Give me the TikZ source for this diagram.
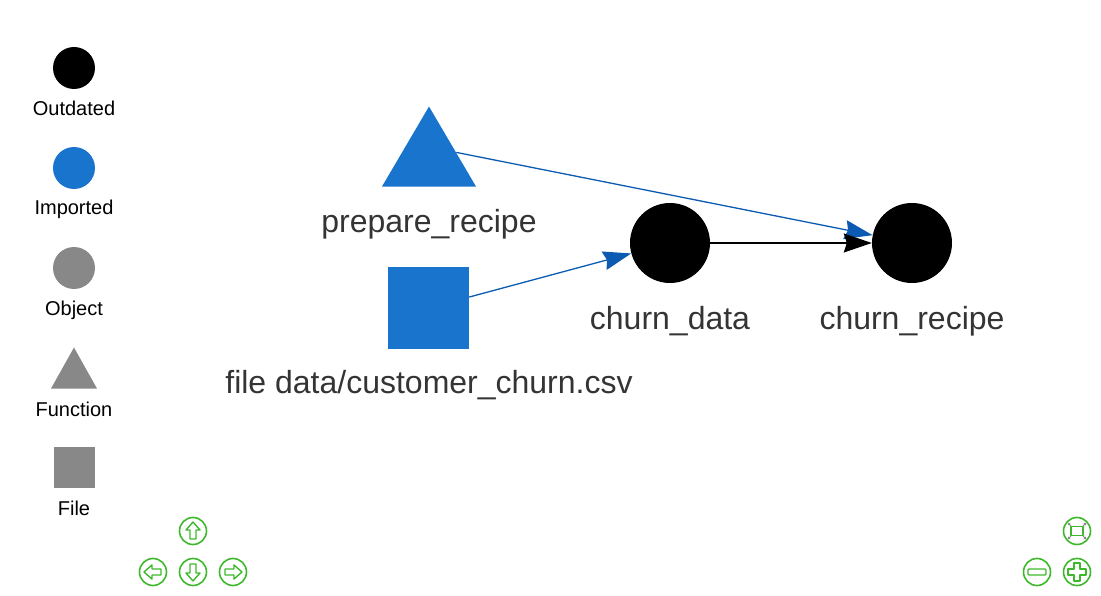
\documentclass[tikz,border=0pt]{standalone}
\usepackage{fontspec}
\setmainfont{Liberation Sans}
\usetikzlibrary{shapes.geometric,arrows.meta,calc}
\definecolor{imp}{HTML}{1874CD}
\definecolor{impedge}{HTML}{0B5BB2}
\definecolor{objgray}{HTML}{888888}
\definecolor{lbl}{HTML}{343434}
\definecolor{navgreen}{HTML}{3DB82B}
\definecolor{fitgray}{HTML}{8A8A8A}
\begin{document}
\begin{tikzpicture}[x=1pt,y=-1pt,
 dot/.style={circle,minimum size=#1,inner sep=0,draw=none},
 tri/.style={isosceles triangle,shape border rotate=90,isosceles triangle stretches,inner sep=0,draw=none},
 sq/.style={rectangle,inner sep=0,draw=none},
 biglbl/.style={anchor=base,text=lbl,font=\fontsize{32}{38}\selectfont,inner sep=0},
 leglbl/.style={anchor=base,text=black,font=\fontsize{20}{24}\selectfont,inner sep=0},
 edge/.style={line width=1.3pt,-{Stealth[length=28pt,width=19pt,inset=3pt]}},
 navbtn/.style={circle,draw=navgreen,line width=1.6pt,minimum size=27pt,inner sep=0},
 icon/.style={draw=navgreen,line width=1.4pt,line join=round}
]
\useasboundingbox (0,0) rectangle (1101,596);

% legend
\node[dot=42pt,fill=black] (lo) at (74,68) {};
\node[leglbl] (lol) at (74,116) {Outdated};
\node[dot=42pt,fill=imp] (li) at (74,168) {};
\node[leglbl] (lil) at (74,215) {Imported};
\node[dot=42pt,fill=objgray] (lb) at (74,268) {};
\node[leglbl] (lbl) at (74,316) {Object};
\node[tri,fill=objgray,minimum width=46pt,minimum height=41pt,anchor=apex] (lf) at (74,347) {};
\node[leglbl] (lfl) at (74,416) {Function};
\node[sq,fill=objgray,minimum width=41pt,minimum height=41pt] (lq) at (74.5,467.5) {};
\node[leglbl] (lql) at (74,515) {File};

% graph nodes
\node[tri,fill=imp,minimum width=94pt,minimum height=80pt,anchor=apex] (pr) at (429,106) {};
\coordinate (prs) at (456.3,152.4);
\node[biglbl] (prl) at (429,233) {prepare\_recipe};
\node[sq,fill=imp,minimum width=81pt,minimum height=82pt] (file) at (428.5,308) {};
\node[biglbl] (filel) at (429,393) {file data/customer\_churn.csv};
\node[dot=80pt,fill=black] (cd) at (670,243) {};
\node[biglbl] (cdl) at (670,329) {churn\_data};
\node[dot=80pt,fill=black] (cr) at (912,243) {};
\node[biglbl] (crl) at (912,329) {churn\_recipe};

% edges
\draw[edge,impedge] (prs) -- (cr);
\draw[edge,impedge] (file) -- (cd);
\draw[edge,black] (cd) -- (cr);

% navigation buttons
\node[navbtn] (up) at (193,531) {};
\node[navbtn] (left) at (153,572) {};
\node[navbtn] (down) at (193,572) {};
\node[navbtn] (right) at (233,572) {};
\node[navbtn] (fit) at (1077,531) {};
\node[navbtn] (minus) at (1037,572) {};
\node[navbtn] (plus) at (1077,572) {};

\begin{scope}[shift={(up.center)}]
\draw[icon] (0,-9) -- (7,-1) -- (3,-1) -- (3,8) -- (-3,8) -- (-3,-1) -- (-7,-1) -- cycle;
\end{scope}
\begin{scope}[shift={(down.center)}]
\draw[icon] (0,9) -- (7,1) -- (3,1) -- (3,-8) -- (-3,-8) -- (-3,1) -- (-7,1) -- cycle;
\end{scope}
\begin{scope}[shift={(left.center)}]
\draw[icon] (-9,0) -- (-1,-7) -- (-1,-3) -- (8,-3) -- (8,3) -- (-1,3) -- (-1,7) -- cycle;
\end{scope}
\begin{scope}[shift={(right.center)}]
\draw[icon] (9,0) -- (1,-7) -- (1,-3) -- (-8,-3) -- (-8,3) -- (1,3) -- (1,7) -- cycle;
\end{scope}
\begin{scope}[shift={(plus.center)}]
\draw[icon] (-3,-9) -- (3,-9) -- (3,-3) -- (9,-3) -- (9,3) -- (3,3) -- (3,9) -- (-3,9) -- (-3,3) -- (-9,3) -- (-9,-3) -- (-3,-3) -- cycle;
\end{scope}
\begin{scope}[shift={(minus.center)}]
\draw[icon,rounded corners=1pt] (-9,-3) rectangle (9,3);
\end{scope}
\begin{scope}[shift={(fit.center)}]
\draw[icon] (-6,-4.5) rectangle (6,4.5);
\draw[fitgray,line width=1pt,-{Stealth[length=3pt,width=3pt]}] (-6,-5) -- (-9.5,-8.5);
\draw[fitgray,line width=1pt,-{Stealth[length=3pt,width=3pt]}] (6,-5) -- (9.5,-8.5);
\draw[fitgray,line width=1pt,-{Stealth[length=3pt,width=3pt]}] (-6,5) -- (-9.5,8.5);
\draw[fitgray,line width=1pt,-{Stealth[length=3pt,width=3pt]}] (6,5) -- (9.5,8.5);
\end{scope}
\end{tikzpicture}
\end{document}
